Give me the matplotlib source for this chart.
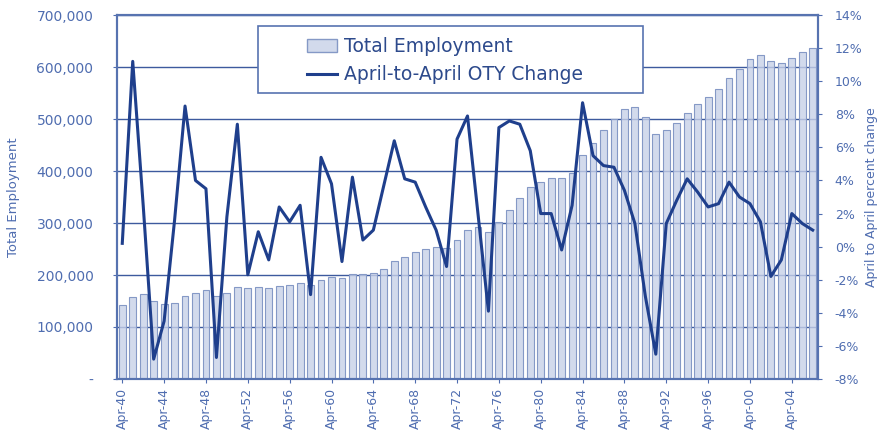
import numpy as np
import matplotlib.pyplot as plt
from matplotlib.patches import Rectangle, Patch
from matplotlib.lines import Line2D

years = list(range(1940, 2007))

employment = [142000, 157000, 163000, 150000, 145000, 146000, 159000, 165000, 171000, 160000,
              165000, 176000, 175000, 176000, 175000, 178000, 180000, 184000, 180000, 190000,
              197000, 195000, 201000, 201000, 204000, 211000, 226000, 235000, 244000, 250000,
              254000, 251000, 268000, 286000, 292000, 282000, 302000, 326000, 349000, 370000,
              379000, 386000, 386000, 396000, 431000, 453000, 478000, 501000, 519000, 524000,
              503000, 471000, 478000, 493000, 512000, 529000, 543000, 558000, 579000, 597000,
              615000, 623000, 612000, 607000, 618000, 629000, 636000]

oty_change = [0.2, 11.2, 2.5, -6.8, -4.5, 1.6, 8.5, 4.0, 3.5, -6.7,
              1.8, 7.4, -1.7, 0.9, -0.8, 2.4, 1.5, 2.5, -2.9, 5.4,
              3.8, -0.9, 4.2, 0.4, 1.0, 3.7, 6.4, 4.1, 3.9, 2.4,
              1.0, -1.2, 6.5, 7.9, 2.0, -3.9, 7.2, 7.6, 7.4, 5.8,
              2.0, 2.0, -0.2, 2.5, 8.7, 5.5, 4.9, 4.8, 3.4, 1.4,
              -3.0, -6.5, 1.4, 2.8, 4.1, 3.3, 2.4, 2.6, 3.9, 3.0,
              2.6, 1.5, -1.8, -0.8, 2.0, 1.4, 1.0]

labels = ['Apr-%02d' % (y % 100) for y in years]

txt_col = '#4f6db0'
line_col = '#1f3f8c'
grid_col = '#3d5a9e'
bar_face = (0.78, 0.82, 0.91, 0.8)
bar_edge = '#8599c6'

fig = plt.figure(figsize=(8.8, 4.43), dpi=100)
ax = fig.add_axes([0.133, 0.1445, 0.7965, 0.8215])
x = np.arange(len(years))

ax.set_axisbelow(True)
ax.yaxis.grid(True, color=grid_col, linewidth=1.0)
ax.bar(x, employment, width=0.65, color=bar_face, edgecolor=bar_edge, linewidth=0.8, zorder=2)
ax.set_xlim(-0.5, len(years) - 0.5)
ax.set_ylim(0, 700000)
ax.set_yticks(np.arange(0, 700001, 100000))
ax.set_yticklabels(['-'] + ['{:,}'.format(v) for v in range(100000, 700001, 100000)])
ax.set_xticks(x[::4])
ax.set_xticklabels(labels[::4], rotation=90)
ax.set_ylabel('Total Employment', color=txt_col, fontsize=9.5, labelpad=12)
ax.tick_params(axis='y', colors=txt_col, labelsize=10, length=3, pad=14)
ax.tick_params(axis='x', colors=txt_col, labelsize=9, length=3)

ax2 = ax.twinx()
ax2.plot(x, oty_change, color=line_col, linewidth=2.2, zorder=3)
ax2.set_ylim(-8, 14)
ax2.set_yticks(np.arange(-8, 15, 2))
ax2.set_yticklabels(['%d%%' % v for v in range(-8, 15, 2)])
ax2.set_ylabel('April to April percent change', color=txt_col, fontsize=9, labelpad=2)
ax2.tick_params(axis='y', colors=txt_col, labelsize=9, length=3, pad=9)

for a in (ax, ax2):
    for s in a.spines.values():
        s.set_color('#5773b0')
        s.set_linewidth(1.5)

# legend box
box = Rectangle((0.201, 0.786), 0.549, 0.184, transform=ax2.transAxes, facecolor='white',
                edgecolor='#5773b0', linewidth=1.2, zorder=4)
ax2.add_patch(box)
handles = [Patch(facecolor=bar_face, edgecolor=bar_edge), Line2D([0], [0], color=line_col, linewidth=2.2)]
leg = ax2.legend(handles, ['Total Employment', 'April-to-April OTY Change'], loc='upper left',
                 bbox_to_anchor=(0.26, 0.96), frameon=False, fontsize=13.5, handlelength=1.6,
                 handletextpad=0.4, labelspacing=0.5, borderaxespad=0)
leg.set_zorder(5)
for t in leg.get_texts():
    t.set_color('#2d4a8c')

plt.savefig('out.png', dpi=100)
